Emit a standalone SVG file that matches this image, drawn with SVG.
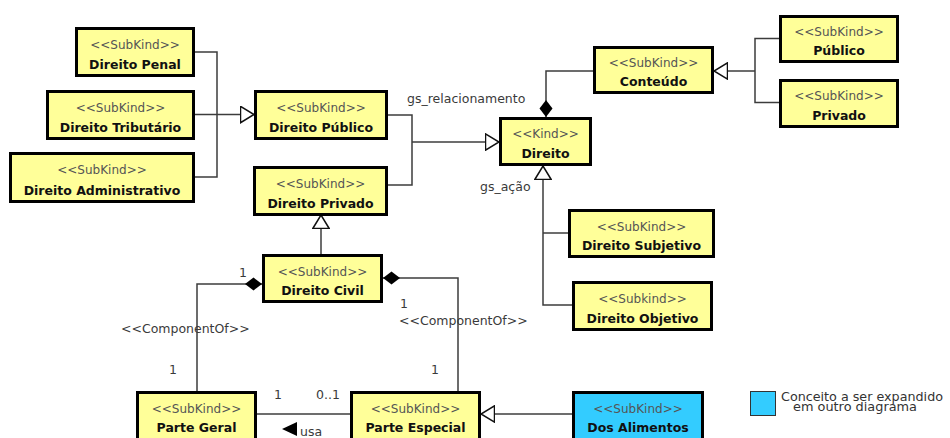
<svg xmlns="http://www.w3.org/2000/svg" width="950" height="438" viewBox="0 0 950 438">
  <style>
    .box { fill: #ffff99; stroke: #000; stroke-width: 3; }
    .box.ext { fill: #33ccff; }
    .st { font-family: "DejaVu Sans", sans-serif; font-size: 12px; fill: #555; text-anchor: middle; }
    .nm { font-family: "DejaVu Sans", sans-serif; font-size: 12.5px; font-weight: bold; fill: #111; text-anchor: middle; }
    .ln { fill: none; stroke: #3c3c3c; stroke-width: 1.5; }
    .lb { font-family: "DejaVu Sans", sans-serif; font-size: 12.5px; fill: #3a3a3a; }
    .lg { font-family: "DejaVu Sans", sans-serif; font-size: 12.8px; fill: #333; }
  </style>
  <defs>
    <!-- hollow triangle for generalization -->
    <marker id="gen" viewBox="0 0 15 18" refX="14.3" refY="9" markerWidth="15" markerHeight="18" markerUnits="userSpaceOnUse" orient="auto">
      <path d="M0.8,0.8 L14.3,9 L0.8,17.2 Z" fill="#fff" stroke="#111" stroke-width="1.5"/>
    </marker>
    <!-- filled diamond for composition (placed at the whole end) -->
    <marker id="comp" viewBox="0 0 17 14" refX="0" refY="7" markerWidth="17" markerHeight="14" markerUnits="userSpaceOnUse" orient="auto">
      <path d="M0,7 L8.5,0.5 L17,7 L8.5,13.5 Z" fill="#000"/>
    </marker>
  </defs>

  <rect width="950" height="438" fill="#fff"/>

  <g id="connectors">
    <!-- Direito Público specializations -->
    <path class="ln" d="M195,52 H217 V177 H194"/>
    <path class="ln" d="M195,114.5 H254" marker-end="url(#gen)"/>
    <!-- Direito specializations -->
    <path class="ln" d="M388,115 H412 V185 H388"/>
    <path class="ln" d="M412,142 H499" marker-end="url(#gen)"/>
    <path class="ln" d="M568,233 H543"/>
    <path class="ln" d="M572,305 H543 V166" marker-end="url(#gen)"/>
    <!-- Conteúdo specializations -->
    <path class="ln" d="M779,38.5 H755 V102.5 H779"/>
    <path class="ln" d="M755,71 H714" marker-end="url(#gen)"/>
    <!-- Direito composed of Conteúdo -->
    <path class="ln" d="M546,117 V71 H593" marker-start="url(#comp)"/>
    <!-- Direito Civil is a Direito Privado -->
    <path class="ln" d="M321,254 V215" marker-end="url(#gen)"/>
    <!-- Direito Civil components -->
    <path class="ln" d="M262,284 H197 V391" marker-start="url(#comp)"/>
    <path class="ln" d="M383,278 H458 V391" marker-start="url(#comp)"/>
    <!-- usa association -->
    <path class="ln" d="M257,414 H350"/>
    <polygon points="282,429 297,422 297,436" fill="#000"/>
    <!-- Dos Alimentos is a Parte Especial -->
    <path class="ln" d="M572,414 H481" marker-end="url(#gen)"/>

    <text class="lb" x="407" y="103">gs_relacionamento</text>
    <text class="lb" x="480" y="191">gs_ação</text>
    <text class="lb" x="239" y="277">1</text>
    <text class="lb" x="121" y="333">&lt;&lt;ComponentOf&gt;&gt;</text>
    <text class="lb" x="169" y="374">1</text>
    <text class="lb" x="400" y="308">1</text>
    <text class="lb" x="399" y="325">&lt;&lt;ComponentOf&gt;&gt;</text>
    <text class="lb" x="431" y="374">1</text>
    <text class="lb" x="274" y="399">1</text>
    <text class="lb" x="316" y="399">0..1</text>
    <text class="lb" x="300" y="436">usa</text>
  </g>

  <g id="direito-penal">
    <rect class="box" x="76.5" y="28.5" width="117" height="47"/>
    <text class="st" x="135" y="49">&lt;&lt;SubKind&gt;&gt;</text>
    <text class="nm" x="135" y="69">Direito Penal</text>
  </g>
  <g id="direito-tributario">
    <rect class="box" x="47.5" y="91.5" width="146" height="47"/>
    <text class="st" x="120.5" y="112">&lt;&lt;SubKind&gt;&gt;</text>
    <text class="nm" x="120.5" y="132">Direito Tributário</text>
  </g>
  <g id="direito-administrativo">
    <rect class="box" x="10.5" y="153.5" width="183" height="48"/>
    <text class="st" x="102" y="174">&lt;&lt;SubKind&gt;&gt;</text>
    <text class="nm" x="102" y="194.5">Direito Administrativo</text>
  </g>
  <g id="direito-publico">
    <rect class="box" x="255.5" y="91.5" width="131" height="47"/>
    <text class="st" x="321" y="112">&lt;&lt;SubKind&gt;&gt;</text>
    <text class="nm" x="321" y="132">Direito Público</text>
  </g>
  <g id="direito-privado">
    <rect class="box" x="254.5" y="167.5" width="132" height="47"/>
    <text class="st" x="320.5" y="188">&lt;&lt;SubKind&gt;&gt;</text>
    <text class="nm" x="320.5" y="208">Direito Privado</text>
  </g>
  <g id="direito">
    <rect class="box" x="500.5" y="118.5" width="90" height="46"/>
    <text class="st" x="545.5" y="138">&lt;&lt;Kind&gt;&gt;</text>
    <text class="nm" x="545.5" y="158">Direito</text>
  </g>
  <g id="conteudo">
    <rect class="box" x="594.5" y="47.5" width="118" height="45"/>
    <text class="st" x="653.5" y="67">&lt;&lt;SubKind&gt;&gt;</text>
    <text class="nm" x="653.5" y="86">Conteúdo</text>
  </g>
  <g id="publico">
    <rect class="box" x="780.5" y="16.5" width="117" height="45"/>
    <text class="st" x="839" y="36">&lt;&lt;SubKind&gt;&gt;</text>
    <text class="nm" x="839" y="55">Público</text>
  </g>
  <g id="privado">
    <rect class="box" x="780.5" y="80.5" width="117" height="46"/>
    <text class="st" x="839" y="100">&lt;&lt;SubKind&gt;&gt;</text>
    <text class="nm" x="839" y="119.5">Privado</text>
  </g>
  <g id="direito-subjetivo">
    <rect class="box" x="569.5" y="210.5" width="144" height="46"/>
    <text class="st" x="641.5" y="230.5">&lt;&lt;SubKind&gt;&gt;</text>
    <text class="nm" x="641.5" y="250">Direito Subjetivo</text>
  </g>
  <g id="direito-objetivo">
    <rect class="box" x="573.5" y="282.5" width="138" height="47"/>
    <text class="st" x="642.5" y="303">&lt;&lt;Subkind&gt;&gt;</text>
    <text class="nm" x="642.5" y="323">Direito Objetivo</text>
  </g>
  <g id="direito-civil">
    <rect class="box" x="263.5" y="255.5" width="118" height="46"/>
    <text class="st" x="322.5" y="275.5">&lt;&lt;SubKind&gt;&gt;</text>
    <text class="nm" x="322.5" y="295">Direito Civil</text>
  </g>
  <g id="parte-geral">
    <rect class="box" x="137.5" y="392.5" width="118" height="48"/>
    <text class="st" x="196.5" y="412.5">&lt;&lt;SubKind&gt;&gt;</text>
    <text class="nm" x="196.5" y="432">Parte Geral</text>
  </g>
  <g id="parte-especial">
    <rect class="box" x="351.5" y="392.5" width="128" height="48"/>
    <text class="st" x="415.5" y="412.5">&lt;&lt;SubKind&gt;&gt;</text>
    <text class="nm" x="415.5" y="432">Parte Especial</text>
  </g>
  <g id="dos-alimentos">
    <rect class="box ext" x="573.5" y="392.5" width="129" height="48"/>
    <text class="st" x="638" y="412.5">&lt;&lt;SubKind&gt;&gt;</text>
    <text class="nm" x="638" y="432">Dos Alimentos</text>
  </g>

  <g id="legend">
    <rect x="750.5" y="391.5" width="25" height="24" fill="#33ccff" stroke="#333" stroke-width="1"/>
    <text class="lg" x="781" y="400.5" textLength="162" lengthAdjust="spacingAndGlyphs">Conceito a ser expandido</text>
    <text class="lg" x="793" y="411" textLength="124" lengthAdjust="spacingAndGlyphs">em outro diagrama</text>
  </g>
</svg>
